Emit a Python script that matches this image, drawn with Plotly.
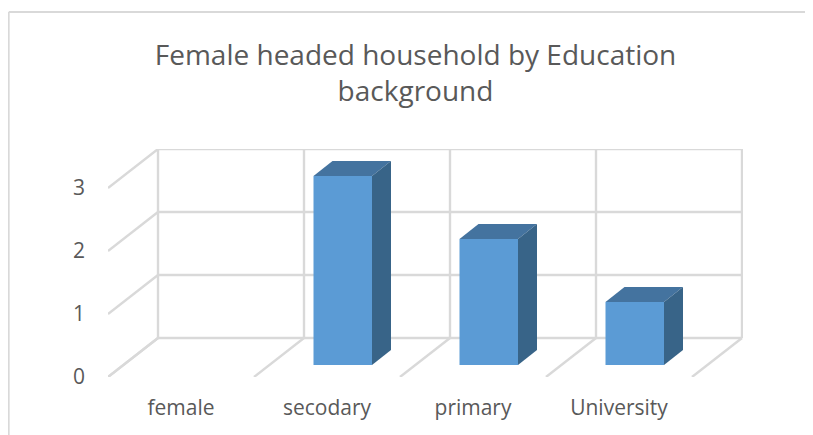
import plotly.graph_objects as go

# ---- data ----
categories = ["female", "secodary", "primary", "University"]
values = [0, 3, 2, 1]
value_ticks = [0, 1, 2, 3]
title_text = "Female headed household by Education<br>background"

# ---- 3D projection expressed in axis units ----
CAT_PX = 146.0
VAL_PX = 63.0
WALL_DX = 50 / CAT_PX
WALL_DY = 39 / VAL_PX
BAR_W = 58.5 / CAT_PX
BAR_SHIFT_X = 15.75 / CAT_PX
BAR_SHIFT_Y = 12 / VAL_PX
BAR_DX = 19 / CAT_PX
BAR_DY = 15 / VAL_PX

GRID = "#d9d9d9"
TEXT = "#595959"
FRONT = "#5b9bd5"
TOP = "#44739f"
SIDE = "#386488"
FONT = "Open Sans"

n = len(categories)
x_left = -0.5
x_right = x_left + n

fig = go.Figure()

shapes = []
def line(x0, y0, x1, y1):
    shapes.append(dict(type="line", xref="x", yref="y", x0=x0, y0=y0, x1=x1, y1=y1,
                       layer="below", line=dict(color=GRID, width=2.4)))

# back wall and left wall
for v in value_ticks:
    line(x_left, v, x_left + WALL_DX, v + WALL_DY)
    line(x_left + WALL_DX, v + WALL_DY, x_right + WALL_DX, v + WALL_DY)
# floor diagonals and back wall verticals
for k in range(n + 1):
    bx = x_left + k + WALL_DX
    line(bx, WALL_DY, bx, value_ticks[-1] + WALL_DY)
    line(x_left + k, 0, bx, WALL_DY)

# bars: only non-zero values leave a visible column
bar_idx = [i for i, v in enumerate(values) if v > 0]
fig.add_trace(go.Bar(
    x=[i + BAR_SHIFT_X for i in bar_idx],
    y=[values[i] for i in bar_idx],
    base=[BAR_SHIFT_Y] * len(bar_idx),
    width=BAR_W,
    marker=dict(color=FRONT, line=dict(width=0)),
    showlegend=False, hoverinfo="skip",
))

for i in bar_idx:
    v = values[i]
    x0 = i + BAR_SHIFT_X - BAR_W / 2
    x1 = i + BAR_SHIFT_X + BAR_W / 2
    b = BAR_SHIFT_Y
    t = b + v
    fig.add_trace(go.Scatter(
        x=[x0, x1, x1 + BAR_DX, x0 + BAR_DX, x0],
        y=[t, t, t + BAR_DY, t + BAR_DY, t],
        mode="lines", fill="toself", fillcolor=TOP, line=dict(width=0),
        showlegend=False, hoverinfo="skip",
    ))
    fig.add_trace(go.Scatter(
        x=[x1, x1 + BAR_DX, x1 + BAR_DX, x1, x1],
        y=[b, b + BAR_DY, t + BAR_DY, t, b],
        mode="lines", fill="toself", fillcolor=SIDE, line=dict(width=0),
        showlegend=False, hoverinfo="skip",
    ))

# chart frame (open at the right and bottom, as in the picture)
PW, PH = 635.0, 228.0
L, T = 100.0, 141.0
fx = (0.75 - L) / PW
fy = 1 + (T - 4) / PH
fy_b = 1 - (435 - T) / PH
shapes.append(dict(type="line", xref="paper", yref="paper", x0=fx, x1=fx, y0=fy_b, y1=fy,
                   line=dict(color=GRID, width=1.8)))
shapes.append(dict(type="line", xref="paper", yref="paper", x0=fx, x1=1 + 78 / PW, y0=fy, y1=fy,
                   line=dict(color=GRID, width=1.8)))

fig.update_layout(
    width=813, height=435,
    autosize=False,
    margin=dict(l=100, r=78, t=141, b=66, pad=0),
    paper_bgcolor="white", plot_bgcolor="white",
    showlegend=False,
    shapes=shapes,
    title=dict(text=title_text, x=407.5 / 813, xanchor="center", y=1 - 57 / 435, yanchor="top",
               font=dict(family=FONT, size=28, color=TEXT)),
    font=dict(family=FONT, color=TEXT),
    xaxis=dict(range=[x_left, x_left + PW / CAT_PX], tickmode="array",
               tickvals=list(range(n)), ticktext=categories,
               tickfont=dict(family=FONT, size=21, color=TEXT),
               showgrid=False, zeroline=False, showline=False, ticks="",
               ticklabelstandoff=16),
    yaxis=dict(range=[0, PH / VAL_PX], tickmode="array",
               tickvals=value_ticks, ticktext=[str(v) for v in value_ticks],
               tickfont=dict(family=FONT, size=21, color=TEXT),
               showgrid=False, zeroline=False, showline=False, ticks="",
               ticklabelstandoff=22),
)

fig.write_html("out.html", config=dict(displayModeBar=False),
               default_width="813px", default_height="435px")
